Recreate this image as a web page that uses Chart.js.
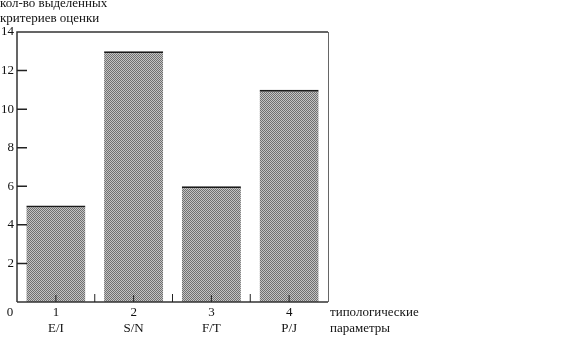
<!DOCTYPE html>
<html>
<head>
<meta charset="utf-8">
<script src="https://cdn.jsdelivr.net/npm/chart.js@4"></script>
<style>
  html, body { margin: 0; padding: 0; background: #fff; }
  #wrap { width: 576px; height: 337px; }
</style>
</head>
<body>
<div id="wrap"><canvas id="myBarChart" width="576" height="337"></canvas></div>
<script>
var categories = ['1', '2', '3', '4'];
var subLabels = ['E/I', 'S/N', 'F/T', 'P/J'];
var values = [5, 13, 6, 11];
var yTicks = [0, 2, 4, 6, 8, 10, 12, 14];
var yTitle = ['кол-во выделенных', 'критериев оценки'];
var xTitle = ['типологические', 'параметры'];

var FONT = '"Liberation Serif", "Times New Roman", serif';

// dithered grey fill like the scanned print
var pc = document.createElement('canvas');
pc.width = 2; pc.height = 2;
var pctx = pc.getContext('2d');
pctx.fillStyle = '#c4c4c4'; pctx.fillRect(0, 0, 2, 2);
pctx.fillStyle = '#707070'; pctx.fillRect(0, 0, 1, 1); pctx.fillRect(1, 1, 1, 1);
var chart = document.getElementById('myBarChart').getContext('2d');
var barFill = chart.createPattern(pc, 'repeat');

var decor = {
    id: 'decor',
    afterDraw: function (c) {
        var ctx = c.ctx, a = c.chartArea;
        var ys = c.scales.y, xs = c.scales.x;
        ctx.save();
        // frame
        ctx.strokeStyle = '#333';
        ctx.lineWidth = 1.5;
        ctx.beginPath();
        ctx.moveTo(a.left, a.bottom); ctx.lineTo(a.left, a.top); ctx.lineTo(a.right, a.top);
        ctx.moveTo(a.left, a.bottom); ctx.lineTo(a.right, a.bottom);
        ctx.stroke();
        ctx.strokeStyle = '#666';
        ctx.lineWidth = 1;
        ctx.beginPath();
        ctx.moveTo(a.right + 0.5, a.top); ctx.lineTo(a.right + 0.5, a.bottom);
        ctx.stroke();
        // inward y ticks
        ctx.strokeStyle = '#222';
        ctx.lineWidth = 1.5;
        ctx.beginPath();
        yTicks.forEach(function (v) {
            if (v === 0 || v === 14) return;
            var py = ys.getPixelForValue(v);
            ctx.moveTo(a.left, py); ctx.lineTo(a.left + 10, py);
        });
        ctx.stroke();
        // small x ticks at centers and boundaries
        ctx.lineWidth = 1;
        ctx.beginPath();
        categories.forEach(function (cat, i) {
            var px = xs.getPixelForValue(i);
            ctx.moveTo(px, a.bottom); ctx.lineTo(px, a.bottom - 7);
            if (i > 0) {
                var bx = (px + xs.getPixelForValue(i - 1)) / 2;
                ctx.moveTo(bx, a.bottom); ctx.lineTo(bx, a.bottom - 8);
            }
        });
        ctx.stroke();
        // texts
        ctx.fillStyle = '#111';
        ctx.font = '13px ' + FONT;
        ctx.textBaseline = 'middle';
        ctx.textAlign = 'left';
        ctx.fillText(yTitle[0], 0, 4);
        ctx.fillText(yTitle[1], 0, 19);
        ctx.fillText(xTitle[0], a.right + 2, a.bottom + 11);
        ctx.fillText(xTitle[1], a.right + 2, a.bottom + 27);
        ctx.textAlign = 'center';
        ctx.fillText('0', 10, a.bottom + 11);
        ctx.restore();
    }
};

var myChart = new Chart(chart, {
    type: 'bar',
    data: {
        labels: categories.map(function (c, i) { return [c, subLabels[i]]; }),
        datasets: [{
            data: values,
            backgroundColor: barFill,
            borderColor: '#1a1a1a',
            borderWidth: { top: 2, right: 0, bottom: 0, left: 0 },
            borderSkipped: false,
            barPercentage: 0.76,
            categoryPercentage: 1
        }]
    },
    options: {
        responsive: false,
        animation: false,
        layout: { padding: { top: 32, right: 248, bottom: 0, left: 0 } },
        plugins: {
            legend: { display: false },
            tooltip: { enabled: false }
        },
        scales: {
            x: {
                grid: { display: false, drawTicks: false },
                border: { display: false },
                ticks: {
                    color: '#111',
                    font: { family: FONT, size: 13 },
                    padding: 3,
                    maxRotation: 0
                },
                afterFit: function (s) { s.height = 35; }
            },
            y: {
                min: 0,
                max: 14,
                grid: { display: false, drawTicks: false },
                border: { display: false },
                afterBuildTicks: function (s) {
                    s.ticks = yTicks.map(function (v) { return { value: v }; });
                },
                ticks: {
                    color: '#111',
                    font: { family: FONT, size: 13 },
                    padding: 3,
                    callback: function (v) { return v === 0 ? '' : v; }
                },
                afterFit: function (s) { s.width = 17; }
            }
        }
    },
    plugins: [decor]
});
</script>
</body>
</html>
